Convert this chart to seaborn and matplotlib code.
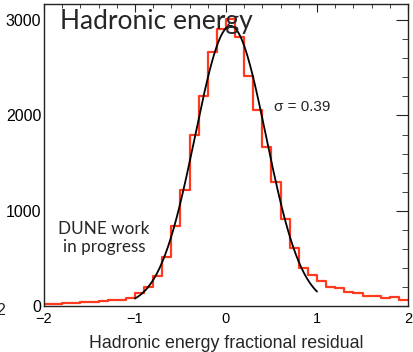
import numpy as np
import pandas as pd
import matplotlib
matplotlib.use("Agg")
import matplotlib.pyplot as plt
import seaborn as sns
from matplotlib.ticker import MultipleLocator

# histogram of the fractional residual, 0.1 wide bins from -2 to 2
bin_edges = [round(-2.0 + 0.1 * i, 2) for i in range(41)]
bin_centers = [round(-1.95 + 0.1 * i, 3) for i in range(40)]
counts = [18, 20, 35, 35, 45, 38, 52, 63, 65, 85,
          135, 202, 315, 517, 838, 1215, 1790, 2199, 2663, 2908,
          3012, 2820, 2419, 2052, 1668, 1302, 908, 604, 395, 330,
          265, 202, 185, 150, 133, 108, 108, 87, 97, 63]

# gaussian fit drawn over [-1, 1]
fit_mean = 0.05
fit_sigma = 0.39
fit_amp = 2940
fit_range = (-1.0, 1.0)

hist = pd.DataFrame({"residual": bin_centers, "n": counts})
fx = np.linspace(fit_range[0], fit_range[1], 200)
fit = pd.DataFrame({"x": fx, "y": fit_amp * np.exp(-0.5 * ((fx - fit_mean) / fit_sigma) ** 2)})

sns.set_style("white")
plt.rcParams['font.family'] = ['Liberation Sans', 'DejaVu Sans']

fig = plt.figure(figsize=(4.13, 3.52), dpi=100)
ax = fig.add_axes([0.1065, 0.1307, 0.8814, 0.858])

sns.histplot(data=hist, x="residual", weights="n", bins=bin_edges, element="step",
             fill=False, color="#ff3a1e", linewidth=1.6, ax=ax)
sns.lineplot(data=fit, x="x", y="y", color="black", linewidth=1.3, ax=ax)

ax.set_xlim(-2, 2)
ax.set_ylim(0, 3170)
ax.set_ylabel("")
ax.set_xlabel("Hadronic energy fractional residual", fontsize=12.8, labelpad=7)

ax.xaxis.set_major_locator(MultipleLocator(1))
ax.xaxis.set_minor_locator(MultipleLocator(0.2))
ax.yaxis.set_major_locator(MultipleLocator(1000))
ax.yaxis.set_minor_locator(MultipleLocator(200))
ax.tick_params(axis="both", which="both", direction="in", top=True, right=True,
               colors="#222222", labelcolor="black")
ax.tick_params(axis="x", which="major", length=6, pad=4, labelsize=10.5)
ax.tick_params(axis="x", which="minor", length=3)
ax.tick_params(axis="y", which="major", length=9, pad=2, labelsize=11.5)
ax.tick_params(axis="y", which="minor", length=4.5)
for s in ax.spines.values():
    s.set_color("#222222")
    s.set_linewidth(1.0)

ax.text(0.045, 0.985, "Hadronic energy", transform=ax.transAxes, ha="left", va="top",
        fontsize=19, family=["Lato", "DejaVu Sans"])
ax.text(0.165, 0.225, "DUNE work\nin progress", transform=ax.transAxes, ha="center",
        va="center", fontsize=12.3, family=["Lato", "DejaVu Sans"], linespacing=1.15)
ax.text(0.633, 0.66, "\u03c3 = 0.39", transform=ax.transAxes, ha="left", va="center",
        fontsize=11)

# clipped label from the neighbouring panel at the left edge
fig.text(-0.008, 0.1165, "2", ha="left", va="center", fontsize=11.5)

fig.savefig("out.png", dpi=100)
